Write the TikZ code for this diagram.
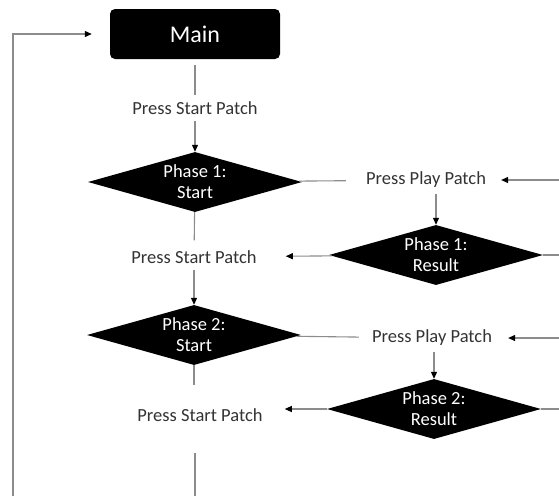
\documentclass[tikz,border=0pt]{standalone}
\usepackage{fontspec}
\setmainfont{Carlito}
\usepackage{xcolor}
\usepackage{tikz}
\usetikzlibrary{arrows.meta,positioning,shapes.geometric}
\tikzset{
  flow/.style={-{Triangle[length=7pt, width=6pt, black]}, line width=1.1pt, black!45},
  link/.style={line width=1.1pt, black!45},
  patch/.style={font=\fontsize{18.5}{21}\selectfont, text=black!80, inner sep=6pt},
  phase/.style={diamond, aspect=3.6, fill=black, text=white, align=center, inner sep=0pt,
    minimum width=214pt, minimum height=60pt, font=\fontsize{18.5}{21}\selectfont},
  menubox/.style={rectangle, rounded corners=5pt, fill=black, text=white,
    minimum width=170pt, minimum height=50pt, font=\fontsize{24}{28}\selectfont},
}

\begin{document}
\begin{tikzpicture}[x=1pt, y=-1pt]
\useasboundingbox (0,0) rectangle (559,496);
\node[menubox] (main) at (195,34) {Main};
\node[patch] (start0) at (195,108) {Press Start Patch};
\node[phase] (ph1s) at (195,182) {Phase 1:\\Start};
\node[patch] (play1) at (426,180) {Press Play Patch};
\node[phase] (ph1r) at (436,255) {Phase 1:\\Result};
\node[patch] (start1) at (194,257) {Press Start Patch};
\node[phase] (ph2s) at (194,335) {Phase 2:\\Start};
\node[patch] (play2) at (432,338) {Press Play Patch};
\node[phase] (ph2r) at (434,409) {Phase 2:\\Result};
\node[patch] (start2) at (200,415) {Press Start Patch};
% ends running off the page
\coordinate (loopbot) at (13,496);
\coordinate (bot) at (195,496);
\coordinate (in1) at (559,180);
\coordinate (out1) at (559,255);
\coordinate (in2) at (559,338);
\coordinate (out2) at (559,409);
% main column
\draw[link, shorten <=6pt] (main) -- (start0);
\draw[flow] (start0) -- (ph1s);
\draw[link, shorten >=4pt] (ph1s) -- (start1);
\draw[flow] (start1) -- (ph2s);
\draw[link, shorten >=17pt] (ph2s.south) -- (ph2s.south |- start2.north);
\draw[link, shorten <=25pt] (start2.south -| bot) -- (bot);
\draw[flow, shorten >=18pt] (loopbot) |- (main.west);
% phase 1
\draw[link, shorten >=14pt] (ph1s) -- (play1);
\draw[flow, shorten >=9pt] (in1) -- (play1);
\draw[flow] (play1.south -| ph1r.north) -- (ph1r.north);
\draw[flow, shorten >=23pt] (ph1r) -- (start1);
\draw[link] (ph1r) -- (out1);
% phase 2
\draw[link, shorten >=7pt] (ph2s) -- (play2);
\draw[flow, shorten >=10pt] (in2) -- (play2);
\draw[flow] (play2.south -| ph2r.north) -- (ph2r.north);
\draw[flow, shorten >=16pt] (ph2r.west) -- (ph2r.west -| start2.east);
\draw[link] (ph2r) -- (out2);
\end{tikzpicture}
\end{document}
